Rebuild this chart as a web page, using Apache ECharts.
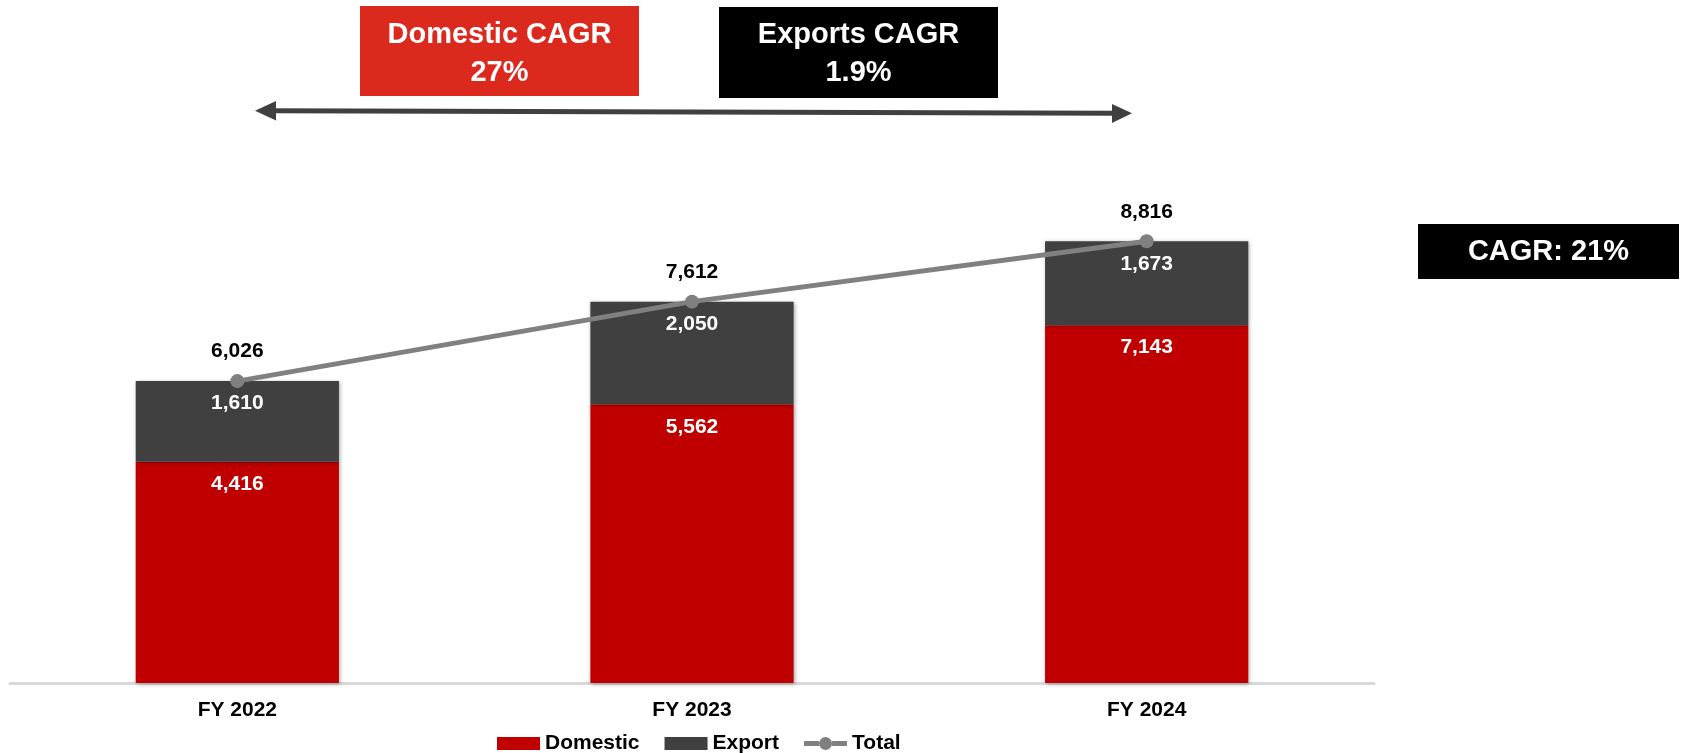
<!DOCTYPE html>
<html>
<head>
<meta charset="utf-8">
<script src="https://cdn.jsdelivr.net/npm/echarts@6/dist/echarts.min.js"></script>
<style>
    html, body {margin: 0; padding: 0; background: #fff;}
    #chart {width: 1683px; height: 753px;}
</style>
</head>
<body>
<div id="chart"></div>
<script type="text/javascript">
    // data
    var years = ['FY 2022', 'FY 2023', 'FY 2024'];
    var domestic = [4416, 5562, 7143];
    var exportVol = [1610, 2050, 1673];
    var total = [6026, 7612, 8816];

    var FONT = '"Liberation Sans", Arial, sans-serif';

    function fmt(p) {
        return p.value.toLocaleString('en-US');
    }

    // legend icon for the Total line: thick line with a dot in the middle
    var lineDotIcon = 'path://M0,4H15V9H0Z M28,4H43V9H28Z M15,6.5A6.5,6.5 0 1 1 28,6.5A6.5,6.5 0 1 1 15,6.5Z';

    var myChart = echarts.init(document.getElementById('chart'));
    var option = {
        animation: false,
        textStyle: {fontFamily: FONT},
        legend: {
            left: 492,
            top: 728,
            itemWidth: 43,
            itemHeight: 13,
            itemGap: 25,
            textStyle: {fontFamily: FONT, fontSize: 21, fontWeight: 'bold', color: '#000'},
            data: [
                {name: 'Domestic', icon: 'rect'},
                {name: 'Export', icon: 'rect'},
                {name: 'Total', icon: lineDotIcon}
            ]
        },
        grid: {
            left: 10,
            right: 309,
            top: 182,
            bottom: 70
        },
        xAxis: {
            type: 'category',
            data: years,
            axisTick: {show: false},
            axisLine: {lineStyle: {color: '#d9d9d9', width: 3}},
            axisLabel: {
                margin: 17,
                fontFamily: FONT,
                fontSize: 21,
                fontWeight: 'bold',
                color: '#000'
            }
        },
        yAxis: {
            type: 'value',
            min: 0,
            max: 10000,
            show: false,
            splitLine: {show: false}
        },
        series: [
            {
                name: 'Domestic',
                type: 'bar',
                stack: 'vol',
                barWidth: '44.7%',
                itemStyle: {
                    color: '#c00000',
                    shadowBlur: 4,
                    shadowColor: 'rgba(0,0,0,0.35)',
                    shadowOffsetX: 1,
                    shadowOffsetY: 1
                },
                label: {
                    show: true,
                    position: 'insideTop',
                    distance: 12,
                    fontFamily: FONT,
                    fontSize: 21,
                    fontWeight: 'bold',
                    color: '#fff',
                    formatter: fmt
                },
                data: domestic
            },
            {
                name: 'Export',
                type: 'bar',
                stack: 'vol',
                itemStyle: {
                    color: '#404040',
                    shadowBlur: 4,
                    shadowColor: 'rgba(0,0,0,0.35)',
                    shadowOffsetX: 1,
                    shadowOffsetY: 1
                },
                label: {
                    show: true,
                    position: 'insideTop',
                    distance: 12,
                    fontFamily: FONT,
                    fontSize: 21,
                    fontWeight: 'bold',
                    color: '#fff',
                    formatter: fmt
                },
                data: exportVol
            },
            {
                name: 'Total',
                type: 'line',
                symbol: 'circle',
                symbolSize: 14,
                z: 5,
                lineStyle: {color: '#808080', width: 5},
                itemStyle: {color: '#808080'},
                label: {
                    show: true,
                    position: 'top',
                    distance: 12,
                    fontFamily: FONT,
                    fontSize: 21,
                    fontWeight: 'bold',
                    color: '#000',
                    formatter: fmt
                },
                data: total
            }
        ],
        graphic: [
            // Domestic CAGR box
            {type: 'rect', shape: {x: 360, y: 6, width: 279, height: 90}, style: {fill: '#dc291e'}},
            {type: 'text', x: 499.5, y: 35, style: {text: 'Domestic CAGR', fill: '#fff', font: 'bold 29px ' + FONT, align: 'center', verticalAlign: 'middle'}},
            {type: 'text', x: 499.5, y: 73, style: {text: '27%', fill: '#fff', font: 'bold 29px ' + FONT, align: 'center', verticalAlign: 'middle'}},
            // Exports CAGR box
            {type: 'rect', shape: {x: 719, y: 7, width: 279, height: 91}, style: {fill: '#000'}},
            {type: 'text', x: 858.5, y: 35, style: {text: 'Exports CAGR', fill: '#fff', font: 'bold 29px ' + FONT, align: 'center', verticalAlign: 'middle'}},
            {type: 'text', x: 858.5, y: 73, style: {text: '1.9%', fill: '#fff', font: 'bold 29px ' + FONT, align: 'center', verticalAlign: 'middle'}},
            // double arrow
            {type: 'line', shape: {x1: 272, y1: 110.7, x2: 1115, y2: 113.3}, style: {stroke: '#404040', lineWidth: 5}},
            {type: 'polygon', shape: {points: [[255, 110.7], [276, 101], [276, 120.5]]}, style: {fill: '#404040'}},
            {type: 'polygon', shape: {points: [[1132, 113.3], [1112, 104], [1112, 123]]}, style: {fill: '#404040'}},
            // overall CAGR box
            {type: 'rect', shape: {x: 1418, y: 224, width: 261, height: 55}, style: {fill: '#000'}},
            {type: 'text', x: 1548.5, y: 251.5, style: {text: 'CAGR: 21%', fill: '#fff', font: 'bold 29px ' + FONT, align: 'center', verticalAlign: 'middle'}}
        ]
    };
    myChart.setOption(option);
</script>
</body>
</html>
